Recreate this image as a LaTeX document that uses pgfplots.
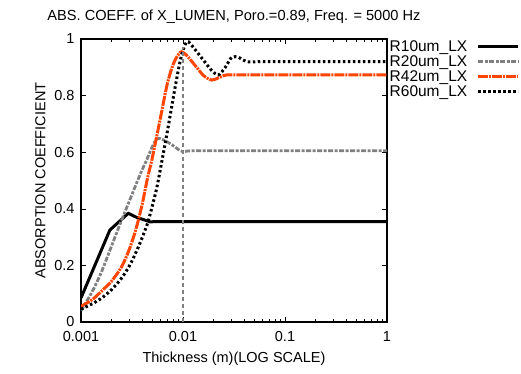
\documentclass[border=0pt]{standalone}
\usepackage{fontspec}
\setmainfont{Liberation Sans}
\usepackage{pgfplots}
\pgfplotsset{compat=1.18}
\definecolor{orred}{HTML}{FF4500}
\definecolor{gr}{HTML}{808080}
\begin{document}
\begin{tikzpicture}[x=1pt,y=1pt]
\path (0,0) rectangle (521,373);
\node[anchor=base] at (234,352.5) {\fontsize{14.6}{15}\selectfont ABS. COEFF. of X\_LUMEN, Poro.=0.89, Freq. = 5000 Hz};
\begin{axis}[
  at={(81pt,51pt)}, anchor=south west,
  scale only axis, width=306pt, height=283pt,
  xmode=log, xmin=0.001, xmax=1, ymin=0, ymax=1,
  xtick={0.001,0.01,0.1,1}, xticklabels={0.001,0.01,0.1,1},
  ytick={0,0.2,0.4,0.6,0.8,1}, yticklabels={0,0.2,0.4,0.6,0.8,1},
  tick align=inside, major tick length=5pt, minor tick length=3pt,
  axis line style={line width=1.2pt},
  tick style={black, line width=0.6pt},
  /pgf/number format/assume math mode=true,
  tick label style={font=\fontsize{14.5}{14}\selectfont},
  xticklabel style={yshift=-6pt},
  yticklabel style={xshift=-3pt},
  xlabel={Thickness (m)(LOG SCALE)},
  ylabel={ABSORPTION COEFFICIENT},
  label style={font=\fontsize{14.5}{15}\selectfont},
  xlabel style={yshift=-3pt},
  ylabel style={yshift=2pt},
  legend style={at={(1,1)}, anchor=north west, draw=none, fill=none, inner sep=0pt, xshift=2pt, yshift=-1pt,
    font=\fontsize{15.5}{15}\selectfont,
    nodes={inner sep=0.5pt, text height=10.5pt, text depth=0.5pt, anchor=west},
    row sep=3pt},
  legend cell align=left,
  legend plot pos=right,
  legend image code/.code={\path (0pt,0pt); \draw[#1] (9pt,0pt) -- (49pt,0pt);},
]
\addplot[black, line width=3pt] coordinates {
(0.001,0.085) (0.00192,0.325) (0.00291,0.384) (0.0035,0.37) (0.00475,0.354) (0.006,0.355) (0.01,0.355) (0.1,0.355) (1,0.355)};
\addlegendentry{R10um\_LX}
\addplot[gr, line width=2.8pt, dash pattern=on 5pt off 1.5pt on 3pt off 1.5pt, smooth, tension=0.5] coordinates {
(0.001,0.04) (0.0013,0.11) (0.0016,0.18) (0.002,0.27) (0.0025,0.36) (0.003,0.43) (0.0035,0.49) (0.004,0.54) (0.0044,0.572) (0.005,0.62) (0.0055,0.645) (0.006,0.648) (0.0075,0.63) (0.009,0.61) (0.01,0.602) (0.012,0.605) (0.02,0.605) (0.1,0.605) (1,0.605)};
\addlegendentry{R20um\_LX}
\addplot[orred, line width=3pt, dash pattern=on 10pt off 1pt on 2pt off 1pt, smooth, tension=0.5] coordinates {
(0.001,0.055) (0.0013,0.08) (0.0016,0.11) (0.002,0.145) (0.0025,0.195) (0.003,0.26) (0.0035,0.335) (0.004,0.42) (0.0045,0.51) (0.005,0.58) (0.006,0.72) (0.007,0.84) (0.008,0.91) (0.009,0.945) (0.0097,0.955) (0.011,0.94) (0.0136,0.9) (0.016,0.87) (0.0191,0.855) (0.022,0.862) (0.0268,0.873) (0.04,0.873) (0.1,0.873) (1,0.873)};
\addlegendentry{R42um\_LX}
\addplot[black, line width=3pt, dash pattern=on 2.5pt off 2.5pt, smooth, tension=0.5] coordinates {
(0.001,0.045) (0.0013,0.065) (0.0016,0.085) (0.002,0.115) (0.0025,0.155) (0.003,0.2) (0.0035,0.25) (0.004,0.3) (0.0045,0.35) (0.005,0.41) (0.0055,0.47) (0.006,0.54) (0.007,0.67) (0.008,0.79) (0.009,0.89) (0.0098,0.95) (0.0109,0.99) (0.012,0.98) (0.0158,0.926) (0.019,0.89) (0.0222,0.873) (0.026,0.9) (0.03,0.935) (0.035,0.935) (0.042,0.92) (0.06,0.92) (0.1,0.92) (1,0.92)};
\addlegendentry{R60um\_LX}
\addplot[gr, line width=1.5pt, dash pattern=on 4pt off 3pt, forget plot] coordinates {(0.01,0) (0.01,0.97)};
\end{axis}
\end{tikzpicture}
\end{document}
